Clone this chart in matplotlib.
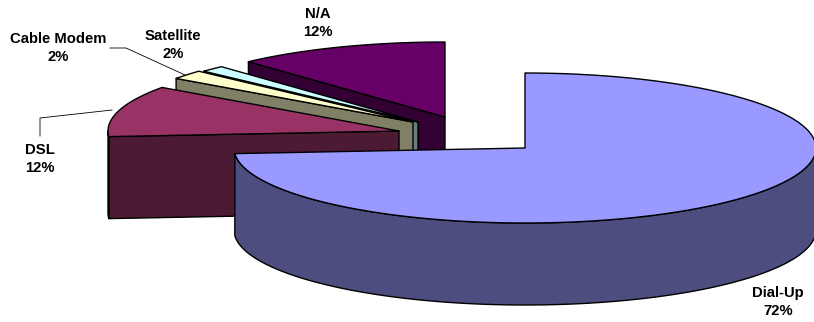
import numpy as np
import matplotlib
matplotlib.use('Agg')
import matplotlib.pyplot as plt
from matplotlib.patches import Polygon

# shares, in drawing order going clockwise from 12 o'clock
categories = ['Dial-Up', 'DSL', 'Cable Modem', 'Satellite', 'N/A']
shares = [72, 12, 2, 2, 12]
top_colors = ['#9999FF', '#993366', '#FFFFCC', '#CCFFFF', '#660066']
side_colors = ['#4D4D80', '#4D1A33', '#808066', '#668080', '#330033']

# exploded slice tips, in pixels
tips = [(525, 148), (399, 131), (413, 122), (418, 122), (445, 117)]

# extra degrees at each slice boundary, from the 3D view foreshortening
view_shift = [0, 6.5, 3.1, 3.0, 0.7, 0]

RX, RY = 291, 75
DEPTH = 82
EDGE = 1.0

plt.rcParams['font.family'] = ['Liberation Sans', 'DejaVu Sans']

fig = plt.figure(figsize=(8.14, 3.22), dpi=100)
ax = fig.add_axes([0, 0, 1, 1])
ax.set_xlim(0, 814)
ax.set_ylim(322, 0)
ax.axis('off')

bounds = np.concatenate([[0], np.cumsum(shares)]) * 3.6 + np.array(view_shift)


def rim(tip, a0, a1):
    t = np.radians(np.linspace(a0, a1, max(int(abs(a1 - a0) * 2), 2)))
    return np.column_stack([tip[0] + RX * np.sin(t), tip[1] - RY * np.cos(t)])


def draw_slice(i):
    tip = tips[i]
    a0, a1 = bounds[i], bounds[i + 1]
    style = dict(edgecolor='black', linewidth=EDGE, joinstyle='round')

    # radial wall facing the viewer
    if a0 > 180:
        outer = rim(tip, a0, a0)[0]
        quad = [outer, tip, (tip[0], tip[1] + DEPTH), (outer[0], outer[1] + DEPTH)]
        ax.add_patch(Polygon(quad, facecolor=side_colors[i], **style))

    # curved wall, only the front half of the rim shows
    lo, hi = max(a0, 90), min(a1, 270)
    if hi > lo:
        arc = rim(tip, lo, hi)
        wall = np.vstack([arc, (arc + [0, DEPTH])[::-1]])
        ax.add_patch(Polygon(wall, facecolor=side_colors[i], **style))

    top = np.vstack([[tip], rim(tip, a0, a1)])
    ax.add_patch(Polygon(top, facecolor=top_colors[i], **style))


# back to front so nearer slices cover the walls behind them
for i in [4, 3, 2, 1, 0]:
    draw_slice(i)

# leader lines
ax.plot([110, 126, 185], [48, 48, 75], color='black', lw=0.6)
ax.plot([40, 40, 112], [136, 118, 110], color='black', lw=0.6)

label_pos = [(778, 302), (40, 159), (58, 48), (173, 45), (318, 23)]
for name, val, (x, y) in zip(categories, shares, label_pos):
    ax.text(x, y, f'{name}\n{val}%', ha='center', va='center', fontsize=10.7,
            fontweight='bold', color='black', linespacing=1.38)

plt.savefig('out.png', dpi=100)
plt.close()
